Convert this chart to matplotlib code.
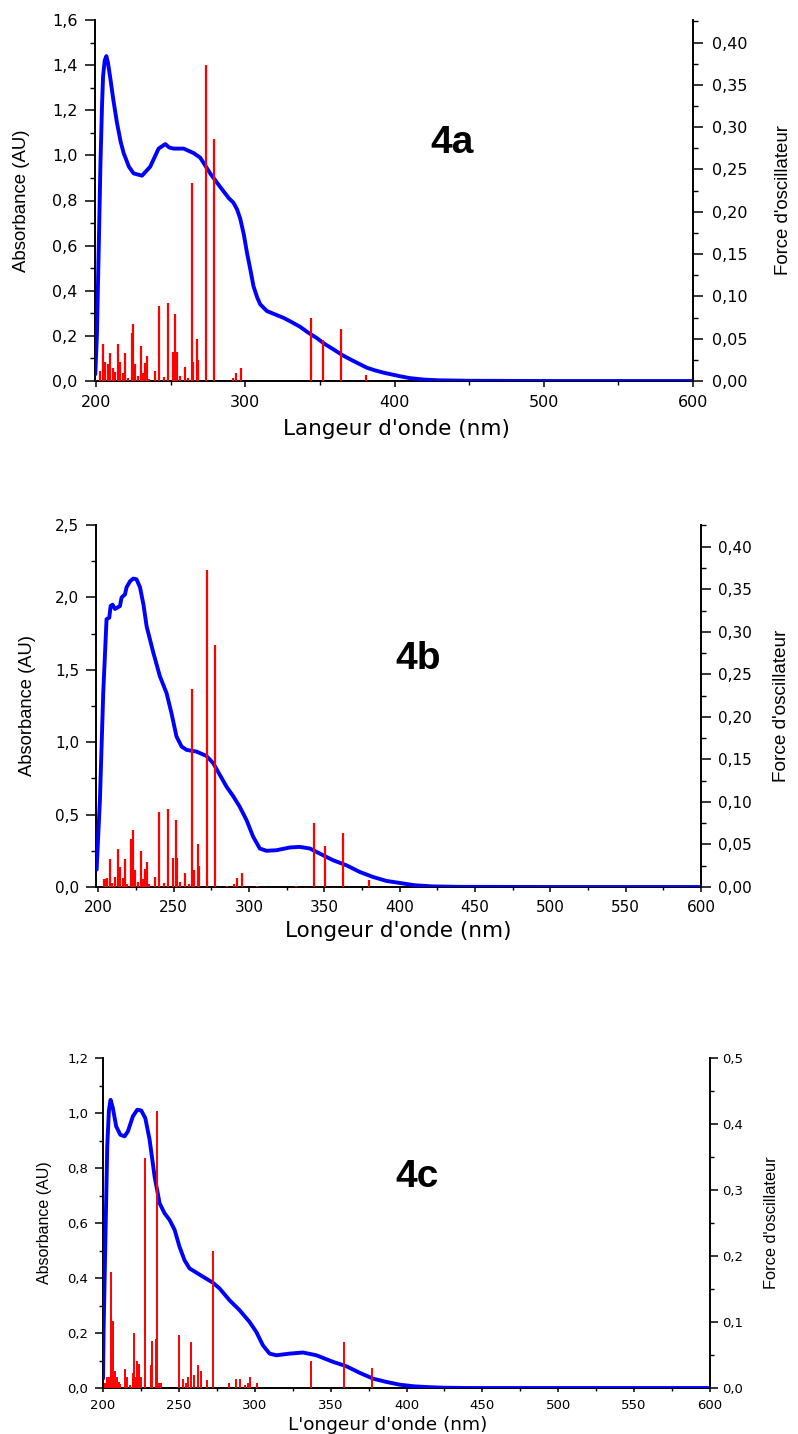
import matplotlib
matplotlib.use("Agg")
import matplotlib.pyplot as plt
from matplotlib import font_manager
from matplotlib.ticker import MultipleLocator, FuncFormatter

# ---------------- data ----------------
# 4a : simulated absorbance spectrum and oscillator strengths
curve_a_nm = [199.5, 200.6, 202.0, 202.9, 204.0, 204.7, 205.8, 206.9, 208.0, 209.6, 211.5,
              214.0, 216.5, 218.5, 222.0, 225.2, 230.8, 236.3, 241.9, 246.4, 249.0,
              252.0, 258.7, 265.4, 269.8, 276.5, 283.2, 289.0, 292.1, 294.5, 296.6,
              299.0, 301.1, 303.5, 305.5, 308.0, 310.0, 314.5, 320.0, 325.6, 330.0,
              336.8, 342.0, 348.0, 353.0, 359.1, 365.0, 370.3, 376.0, 381.4, 387.0,
              392.6, 403.0, 410.0, 420.0, 430.0, 450.0, 500.0, 600.0]
curve_a_abs = [0.03, 0.21, 0.65, 0.95, 1.22, 1.35, 1.42, 1.44, 1.41, 1.34, 1.25,
               1.145, 1.06, 1.01, 0.95, 0.92, 0.91, 0.95, 1.03, 1.05, 1.035,
               1.03, 1.03, 1.01, 0.99, 0.92, 0.86, 0.81, 0.79, 0.76, 0.72,
               0.65, 0.57, 0.49, 0.42, 0.37, 0.34, 0.31, 0.295, 0.28, 0.265,
               0.24, 0.215, 0.19, 0.165, 0.14, 0.115, 0.096, 0.077, 0.059, 0.047,
               0.037, 0.022, 0.013, 0.006, 0.003, 0.001, 0.0, 0.0]
osc_a_nm = [202.7, 204.7, 205.8, 207.8, 209.6, 211.4, 212.7, 214.7, 216.1, 218.1, 219.4,
            221.2, 223.9, 224.8, 225.9, 228.1, 230.4, 231.5, 233.1, 234.2, 235.8, 239.5,
            242.2, 245.6, 248.0, 251.6, 253.2, 254.1, 256.3, 259.4, 261.9, 264.1, 265.0,
            267.7, 268.6, 273.9, 278.8, 292.0, 293.8, 297.1, 344.2, 352.0, 364.0, 381.2]
osc_a_f = [0.012, 0.044, 0.022, 0.020, 0.033, 0.015, 0.011, 0.044, 0.022, 0.009, 0.033,
           0.003, 0.057, 0.067, 0.020, 0.006, 0.041, 0.009, 0.021, 0.029, 0.002, 0.012,
           0.089, 0.005, 0.092, 0.034, 0.079, 0.034, 0.006, 0.017, 0.003, 0.234, 0.022,
           0.050, 0.025, 0.374, 0.286, 0.003, 0.010, 0.015, 0.074, 0.048, 0.062, 0.007]

# 4b
curve_b_nm = [198.9, 201.1, 203.3, 205.5, 207.3, 208.2, 209.5, 211.1, 214.4, 215.5,
              217.7, 218.8, 221.0, 223.2, 225.4, 227.7, 230.0, 232.1, 236.5, 240.9,
              245.3, 248.6, 251.9, 255.3, 258.6, 265.2, 271.8, 276.3, 280.7, 285.1,
              289.5, 293.9, 298.4, 302.8, 307.2, 311.6, 318.3, 327.1, 333.7, 340.4,
              347.0, 355.8, 364.7, 373.5, 382.4, 391.2, 400.0, 410.0, 422.0, 440.0,
              500.0, 600.0]
curve_b_abs = [0.12, 0.60, 1.34, 1.85, 1.86, 1.94, 1.95, 1.92, 1.94, 2.00,
               2.02, 2.07, 2.11, 2.13, 2.125, 2.07, 1.95, 1.80, 1.62, 1.455,
               1.34, 1.20, 1.04, 0.97, 0.947, 0.935, 0.905, 0.855, 0.774, 0.693,
               0.628, 0.554, 0.462, 0.347, 0.266, 0.25, 0.254, 0.273, 0.277, 0.266,
               0.231, 0.185, 0.150, 0.104, 0.069, 0.042, 0.028, 0.012, 0.004, 0.001,
               0.0, 0.0]
osc_b_nm = [203.8, 204.6, 206.0, 207.7, 209.3, 210.8, 213.0, 214.1, 216.1, 217.6, 219.2,
            221.8, 223.0, 224.1, 226.3, 228.5, 229.6, 231.2, 232.3, 233.9, 237.8, 240.3,
            243.8, 246.0, 249.8, 251.3, 252.2, 254.4, 257.5, 260.0, 262.4, 263.3, 266.0,
            267.1, 272.4, 277.2, 285.2, 290.1, 292.1, 295.4, 305.6, 331.3, 343.0, 350.7,
            362.7, 379.9]
osc_b_f = [0.009, 0.009, 0.010, 0.033, 0.005, 0.012, 0.045, 0.023, 0.010, 0.033, 0.004,
           0.056, 0.067, 0.020, 0.006, 0.042, 0.009, 0.021, 0.029, 0.003, 0.012, 0.088,
           0.005, 0.092, 0.034, 0.079, 0.034, 0.006, 0.017, 0.003, 0.233, 0.020, 0.050,
           0.025, 0.373, 0.285, 0.001, 0.004, 0.011, 0.016, 0.001, 0.001, 0.075, 0.048,
           0.063, 0.008]

# 4c
curve_c_nm = [200.0, 200.4, 201.7, 202.8, 203.9, 205.0, 206.5, 208.7, 211.4, 214.2,
              216.4, 219.7, 222.6, 225.2, 227.9, 230.7, 234.0, 237.3, 240.6, 243.9,
              247.2, 250.4, 253.7, 257.0, 261.4, 265.8, 272.4, 276.8, 283.4, 290.0,
              296.6, 301.0, 305.4, 309.8, 314.2, 323.0, 331.8, 340.6, 351.6, 360.4,
              369.2, 378.0, 386.8, 395.6, 405.0, 415.0, 425.0, 440.0, 500.0, 600.0]
curve_c_abs = [0.034, 0.21, 0.575, 0.88, 1.01, 1.048, 1.018, 0.951, 0.921, 0.915,
               0.933, 0.988, 1.012, 1.009, 0.981, 0.903, 0.769, 0.672, 0.635, 0.611,
               0.575, 0.514, 0.465, 0.435, 0.420, 0.405, 0.383, 0.362, 0.319, 0.283,
               0.240, 0.204, 0.155, 0.125, 0.119, 0.125, 0.129, 0.119, 0.095, 0.079,
               0.055, 0.034, 0.022, 0.012, 0.006, 0.003, 0.001, 0.0, 0.0, 0.0]
osc_c_nm = [201.1, 202.9, 204.0, 205.3, 206.8, 207.9, 209.2, 210.3, 211.4, 214.7, 215.8,
            217.5, 219.7, 220.6, 221.7, 222.6, 223.7, 225.2, 227.4, 231.8, 232.2, 234.6,
            235.7, 236.8, 238.1, 250.4, 253.0, 254.8, 256.3, 258.3, 260.1, 262.3, 264.9,
            268.4, 272.8, 282.9, 287.8, 290.0, 293.3, 295.5, 296.6, 301.7, 337.3, 358.8,
            377.3]
osc_c_f = [0.008, 0.017, 0.017, 0.176, 0.102, 0.026, 0.017, 0.009, 0.006, 0.029, 0.017,
           0.004, 0.022, 0.083, 0.017, 0.041, 0.036, 0.016, 0.348, 0.035, 0.071, 0.075,
           0.419, 0.007, 0.007, 0.080, 0.014, 0.007, 0.016, 0.069, 0.019, 0.035, 0.026,
           0.012, 0.207, 0.008, 0.013, 0.013, 0.004, 0.008, 0.016, 0.008, 0.041, 0.070,
           0.031]

tags = ["4a", "4b", "4c"]
xlabels = ["Langeur d'onde (nm)", "Longeur d'onde (nm)", "L'ongeur d'onde (nm)"]
ylabel_left = "Absorbance (AU)"
ylabel_right = "Force d'oscillateur"

# ---------------- fonts ----------------
available = {f.name for f in font_manager.fontManager.ttflist}
NARROW = "Liberation Sans Narrow" if "Liberation Sans Narrow" in available else "Liberation Sans"
narrow_scale = 1.0 / 0.82 if NARROW == "Liberation Sans Narrow" else 1.0
plt.rcParams["font.family"] = ["DejaVu Sans"]

W, H = 798, 1434
fig = plt.figure(figsize=(W / 100, H / 100), dpi=100)


def px_axes(left, top, right, bottom):
    return fig.add_axes([left / W, 1 - bottom / H, (right - left) / W, (bottom - top) / H])


def comma(decimals):
    return FuncFormatter(lambda v, p: f"{v:.{decimals}f}".replace(".", ","))


panels = [
    dict(box=(95, 20, 693, 381), nm=curve_a_nm, ab=curve_a_abs, onm=osc_a_nm, of=osc_a_f,
         xlim=(199.3, 600), ylim=(0, 1.6), y2lim=(0, 0.4266),
         xmaj=100, xmin=50, ymaj=0.2, ymin=0.1, y2maj=0.05, y2min=0.025,
         ydec=1, y2dec=2, tick_fs=11.5, xl_fs=15.5, xl_y=429, xl_x=396,
         ylen=7.0, xlen=4.5, lpad=5.5, rpad=6.5, bpad=5.5,
         yl_x=22, yl_fs=13.4, yr_x=783, yr_fs=13.4, tag_xy=(452, 143), barlw=1.6),
    dict(box=(96, 525, 701, 887), nm=curve_b_nm, ab=curve_b_abs, onm=osc_b_nm, of=osc_b_f,
         xlim=(198.5, 600), ylim=(0, 2.5), y2lim=(0, 0.4255),
         xmaj=50, xmin=25, ymaj=0.5, ymin=0.25, y2maj=0.05, y2min=0.025,
         ydec=1, y2dec=2, tick_fs=11, xl_fs=15.5, xl_y=931, xl_x=398,
         ylen=7.0, xlen=3.8, lpad=5.0, rpad=5.5, bpad=5.5,
         yl_x=27, yl_fs=13.2, yr_x=782, yr_fs=13.7, tag_xy=(418, 659), barlw=1.6),
    dict(box=(103, 1058, 710, 1388), nm=curve_c_nm, ab=curve_c_abs, onm=osc_c_nm, of=osc_c_f,
         xlim=(200, 600), ylim=(0, 1.2), y2lim=(0, 0.5),
         xmaj=50, xmin=25, ymaj=0.2, ymin=0.1, y2maj=0.1, y2min=0.05,
         ydec=1, y2dec=1, tick_fs=9.5, xl_fs=13.3, xl_y=1425, xl_x=388,
         ylen=6.0, xlen=3.2, lpad=4.5, rpad=2.5, bpad=4.5,
         yl_x=45, yl_fs=11.5, yr_x=772, yr_fs=11.8, tag_xy=(417, 1177), barlw=1.4),
]

for tag, xlab, p in zip(tags, xlabels, panels):
    ax = px_axes(*p["box"])
    ax2 = ax.twinx()

    ax.plot(p["nm"], p["ab"], color="#0000ff", lw=2.8, solid_joinstyle="round",
            solid_capstyle="round", zorder=3)
    # oscillator strengths as stick spectrum on the right-hand scale
    ax2.vlines(p["onm"], 0, p["of"], colors="#ff0000", linewidth=p["barlw"], zorder=2)

    ax.set_xlim(*p["xlim"])
    ax.set_ylim(*p["ylim"])
    ax2.set_ylim(*p["y2lim"])

    for a in (ax, ax2):
        a.spines["top"].set_visible(False)
        for s in a.spines.values():
            s.set_linewidth(1.4)
            s.set_color("black")
        a.patch.set_visible(False)
    ax2.spines["left"].set_visible(False)
    ax2.spines["bottom"].set_visible(False)
    ax.spines["right"].set_visible(False)

    ax.xaxis.set_major_locator(MultipleLocator(p["xmaj"]))
    ax.xaxis.set_minor_locator(MultipleLocator(p["xmin"]))
    ax.yaxis.set_major_locator(MultipleLocator(p["ymaj"]))
    ax.yaxis.set_minor_locator(MultipleLocator(p["ymin"]))
    ax2.yaxis.set_major_locator(MultipleLocator(p["y2maj"]))
    ax2.yaxis.set_minor_locator(MultipleLocator(p["y2min"]))
    ax.xaxis.set_major_formatter(FuncFormatter(lambda v, q: f"{v:.0f}"))
    ax.yaxis.set_major_formatter(comma(p["ydec"]))
    ax2.yaxis.set_major_formatter(comma(p["y2dec"]))

    ax.tick_params(axis="y", which="major", direction="out", length=p["ylen"], width=1.1,
                   labelsize=p["tick_fs"], pad=p["lpad"])
    ax.tick_params(axis="y", which="minor", direction="out", length=p["ylen"] / 2, width=1.0)
    ax2.tick_params(axis="y", which="major", direction="out", length=p["ylen"], width=1.1,
                    labelsize=p["tick_fs"], pad=p["rpad"])
    ax2.tick_params(axis="y", which="minor", direction="out", length=p["ylen"] / 2, width=1.0)
    ax.tick_params(axis="x", which="major", direction="out", length=p["xlen"], width=1.1,
                   labelsize=p["tick_fs"], pad=p["bpad"])
    ax.tick_params(axis="x", which="minor", direction="out", length=p["xlen"] * 0.6, width=1.0)

    fig.text(p["xl_x"] / W, 1 - p["xl_y"] / H, xlab, ha="center", va="center",
             fontsize=p["xl_fs"])
    fig.text(p["yl_x"] / W, 1 - ((p["box"][1] + p["box"][3]) / 2) / H, ylabel_left,
             rotation=90, ha="center", va="center", family=NARROW,
             fontsize=p["yl_fs"] * narrow_scale)
    fig.text(p["yr_x"] / W, 1 - ((p["box"][1] + p["box"][3]) / 2) / H, ylabel_right,
             rotation=90, ha="center", va="center", family=NARROW,
             fontsize=p["yr_fs"] * narrow_scale)
    fig.text(p["tag_xy"][0] / W, 1 - p["tag_xy"][1] / H, tag, ha="center", va="center",
             family="Liberation Sans", fontweight="bold", fontsize=28)

fig.savefig("out.png", dpi=100)
